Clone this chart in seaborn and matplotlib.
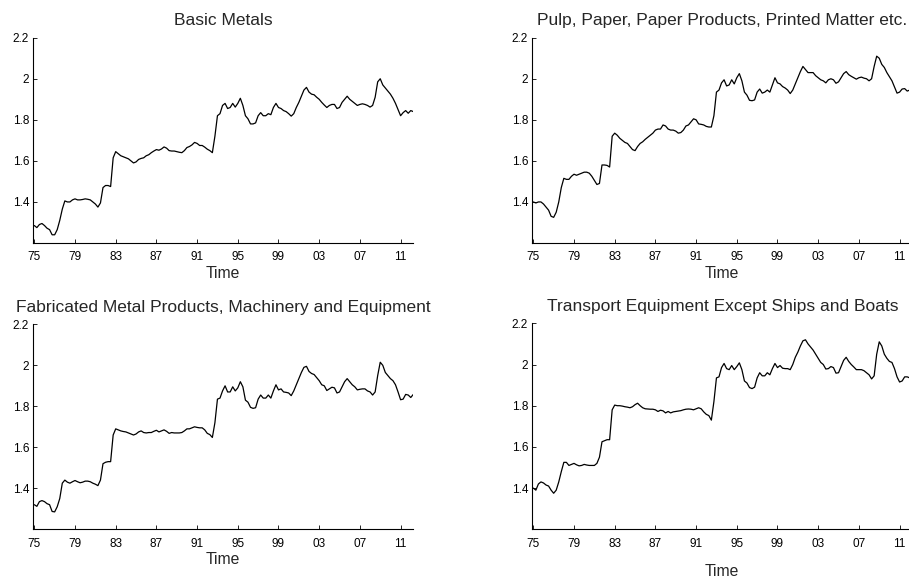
import numpy as np
import pandas as pd
import matplotlib
matplotlib.use("Agg")
import matplotlib.pyplot as plt
import seaborn as sns

# ---- data (quarterly, 1975Q1 .. 2012Q2) ----
time = 1975 + np.arange(150) / 4.0

basic_metals = [
    1.285, 1.275, 1.29, 1.295, 1.285, 1.272, 1.265, 1.24,
    1.24, 1.265, 1.31, 1.365, 1.405, 1.40, 1.40, 1.41,
    1.415, 1.41, 1.41, 1.412, 1.415, 1.413, 1.41, 1.40,
    1.39, 1.375, 1.395, 1.47, 1.48, 1.48, 1.475, 1.615,
    1.645, 1.635, 1.625, 1.62, 1.615, 1.61, 1.60, 1.59,
    1.595, 1.607, 1.612, 1.615, 1.625, 1.63, 1.64, 1.648,
    1.655, 1.652, 1.658, 1.668, 1.662, 1.65, 1.648, 1.648,
    1.645, 1.642, 1.64, 1.65, 1.665, 1.67, 1.678, 1.69,
    1.685, 1.675, 1.675, 1.667, 1.657, 1.65, 1.64, 1.72,
    1.82, 1.83, 1.87, 1.88, 1.855, 1.86, 1.88, 1.862,
    1.88, 1.905, 1.87, 1.82, 1.805, 1.78, 1.78, 1.785,
    1.82, 1.835, 1.82, 1.82, 1.83, 1.825, 1.86, 1.88,
    1.86, 1.855, 1.845, 1.84, 1.83, 1.818, 1.83, 1.86,
    1.885, 1.915, 1.945, 1.958, 1.935, 1.925, 1.922, 1.91,
    1.90, 1.885, 1.872, 1.86, 1.87, 1.875, 1.875, 1.855,
    1.86, 1.885, 1.90, 1.915, 1.90, 1.89, 1.88, 1.87,
    1.875, 1.878, 1.875, 1.87, 1.862, 1.87, 1.91, 1.985,
    2.0, 1.97, 1.955, 1.94, 1.925, 1.905, 1.88, 1.85,
    1.82, 1.835, 1.845, 1.832, 1.845, 1.84,
]

pulp_paper = [
    1.40, 1.395, 1.40, 1.40, 1.39, 1.375, 1.36, 1.33,
    1.325, 1.35, 1.40, 1.47, 1.515, 1.51, 1.51, 1.525,
    1.535, 1.53, 1.535, 1.54, 1.545, 1.545, 1.54, 1.525,
    1.505, 1.485, 1.49, 1.58, 1.58, 1.578, 1.57, 1.72,
    1.735, 1.725, 1.71, 1.70, 1.69, 1.685, 1.67, 1.655,
    1.65, 1.67, 1.685, 1.693, 1.705, 1.715, 1.725, 1.735,
    1.75, 1.755, 1.755, 1.775, 1.77, 1.755, 1.75, 1.75,
    1.745, 1.735, 1.738, 1.75, 1.77, 1.775, 1.79, 1.805,
    1.80, 1.78, 1.778, 1.775, 1.768, 1.765, 1.765, 1.82,
    1.935, 1.945, 1.98, 1.995, 1.965, 1.97, 1.995, 1.975,
    2.005, 2.025, 1.99, 1.935, 1.92, 1.895, 1.893, 1.897,
    1.935, 1.95, 1.93, 1.935, 1.945, 1.935, 1.97, 2.005,
    1.98, 1.975, 1.962, 1.955, 1.945, 1.928, 1.945, 1.975,
    2.005, 2.035, 2.06, 2.045, 2.03, 2.03, 2.03, 2.015,
    2.005, 1.995, 1.99, 1.98, 1.995, 2.0, 1.995, 1.978,
    1.985, 2.005, 2.025, 2.035, 2.02, 2.012, 2.005, 1.998,
    2.005, 2.008, 2.003, 2.0, 1.99, 2.0, 2.06, 2.11,
    2.1, 2.07, 2.055, 2.03, 2.01, 1.99, 1.96, 1.93,
    1.935, 1.95, 1.952, 1.94, 1.945, 1.94,
]

fabricated_metal = [
    1.32, 1.312, 1.335, 1.34, 1.335, 1.325, 1.32, 1.287,
    1.285, 1.31, 1.35, 1.425, 1.44, 1.43, 1.425, 1.432,
    1.438, 1.432, 1.427, 1.43, 1.435, 1.435, 1.432, 1.425,
    1.42, 1.413, 1.44, 1.52, 1.527, 1.53, 1.53, 1.66,
    1.69, 1.685, 1.68, 1.677, 1.675, 1.67, 1.665, 1.66,
    1.665, 1.675, 1.68, 1.672, 1.67, 1.672, 1.672, 1.678,
    1.683, 1.675, 1.68, 1.685, 1.678, 1.668, 1.672, 1.67,
    1.67, 1.67, 1.672, 1.68, 1.69, 1.69, 1.695, 1.70,
    1.697, 1.695, 1.695, 1.685, 1.668, 1.662, 1.648, 1.72,
    1.835, 1.84, 1.875, 1.90, 1.87, 1.87, 1.895, 1.875,
    1.89, 1.92, 1.895, 1.83, 1.82, 1.795, 1.79, 1.793,
    1.835, 1.855, 1.84, 1.84, 1.855, 1.84, 1.875, 1.905,
    1.88, 1.885, 1.87, 1.868, 1.865, 1.852, 1.875, 1.905,
    1.935, 1.965, 1.99, 1.995, 1.97, 1.96, 1.955, 1.94,
    1.925, 1.905, 1.90, 1.877, 1.885, 1.893, 1.89, 1.865,
    1.87, 1.895, 1.92, 1.935, 1.92, 1.905, 1.895, 1.88,
    1.883, 1.885, 1.885, 1.875, 1.87, 1.855, 1.87, 1.95,
    2.015, 2.0, 1.965, 1.95, 1.935, 1.925, 1.905, 1.87,
    1.832, 1.835, 1.858, 1.855, 1.843, 1.858,
]

transport = [
    1.40, 1.39, 1.42, 1.43, 1.425, 1.415, 1.41, 1.39,
    1.375, 1.39, 1.43, 1.48, 1.525, 1.525, 1.51, 1.515,
    1.52, 1.513, 1.508, 1.51, 1.515, 1.512, 1.51, 1.51,
    1.51, 1.52, 1.55, 1.625, 1.63, 1.635, 1.635, 1.78,
    1.803, 1.80, 1.80, 1.798, 1.795, 1.793, 1.79, 1.795,
    1.805, 1.812, 1.80, 1.79, 1.785, 1.784, 1.783, 1.783,
    1.78, 1.772, 1.778, 1.775, 1.765, 1.772, 1.765, 1.77,
    1.772, 1.774, 1.776, 1.78, 1.783, 1.784, 1.783, 1.78,
    1.785, 1.79, 1.785, 1.77, 1.758, 1.752, 1.73, 1.82,
    1.935, 1.94, 1.985, 2.005, 1.98, 1.975, 1.995, 1.975,
    1.99, 2.008, 1.975, 1.92, 1.91, 1.888, 1.883, 1.89,
    1.935, 1.96, 1.945, 1.945, 1.96, 1.95, 1.98, 2.005,
    1.985, 1.995, 1.982, 1.98, 1.98, 1.975, 2.0, 2.035,
    2.06, 2.09, 2.115, 2.12, 2.1, 2.085, 2.07, 2.05,
    2.03, 2.01, 2.0, 1.978, 1.98, 1.99, 1.985, 1.958,
    1.96, 1.99, 2.02, 2.035, 2.015, 2.0, 1.988, 1.975,
    1.975, 1.975, 1.97, 1.96, 1.95, 1.93, 1.945, 2.05,
    2.11, 2.09, 2.05, 2.03, 2.015, 2.01, 1.98, 1.94,
    1.915, 1.92, 1.94, 1.94, 1.935, 1.94,
]

titles = [
    "Basic Metals",
    "Pulp, Paper, Paper Products, Printed Matter etc.",
    "Fabricated Metal Products, Machinery and Equipment",
    "Transport Equipment Except Ships and Boats",
]
series = [basic_metals, pulp_paper, fabricated_metal, transport]

xtick_pos = [1975, 1979, 1983, 1987, 1991, 1995, 1999, 2003, 2007, 2011]
xtick_labels = ["75", "79", "83", "87", "91", "95", "99", "03", "07", "11"]
ytick_pos = [1.4, 1.6, 1.8, 2.0, 2.2]
ytick_labels = ["1.4", "1.6", "1.8", "2", "2.2"]

# ---- style ----
sns.set_style("ticks")
plt.rcParams["font.family"] = ["Liberation Sans", "DejaVu Sans"]

W, H = 909, 583
fig = plt.figure(figsize=(W / 100, H / 100), dpi=100)

# axes rectangles in pixels: (left, bottom_y, top_y)
ax_w = 380
rects = [
    (33.3, 243.0, 37.7),
    (532.3, 243.0, 37.7),
    (33.3, 529.3, 324.3),
    (532.3, 529.3, 323.3),
]
xlabel_pads = [2, 2, 2, 10]

for i, (s, title) in enumerate(zip(series, titles)):
    l, b, t = rects[i]
    ax = fig.add_axes([l / W, (H - b) / H, ax_w / W, (b - t) / H])
    df = pd.DataFrame({"Time": time, "value": s})
    sns.lineplot(data=df, x="Time", y="value", ax=ax, color="black",
                 linewidth=0.9)
    ax.set_xlim(1974.9, 2012.25)
    ax.set_ylim(1.2, 2.2)
    ax.set_xticks(xtick_pos)
    ax.set_xticklabels(xtick_labels)
    ax.set_yticks(ytick_pos)
    ax.set_yticklabels(ytick_labels)
    ax.tick_params(direction="in", length=3, width=0.6, labelsize=8.5,
                   colors="black")
    ax.tick_params(axis="x", pad=6)
    ax.tick_params(axis="y", pad=3)
    for sp in ["top", "right"]:
        ax.spines[sp].set_visible(False)
    for sp in ["left", "bottom"]:
        ax.spines[sp].set_linewidth(0.8)
        ax.spines[sp].set_color("black")
    ax.set_ylabel("")
    ax.set_xlabel("Time", fontsize=11.3, labelpad=xlabel_pads[i])
    ax.set_title(title, fontsize=12.5, pad=9)

fig.savefig("out.png", dpi=100)
